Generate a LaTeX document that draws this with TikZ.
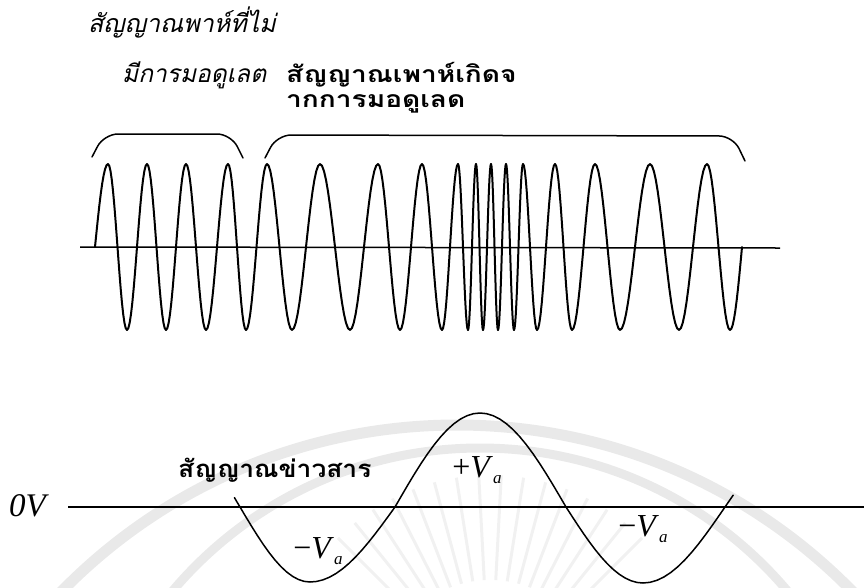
\documentclass[tikz,border=0pt]{standalone}
\usepackage{fontspec}
\setmainfont{Liberation Serif}
\newfontfamily\thaiit[Script=Thai,FakeSlant=0.22]{Loma}
\newfontfamily\thaibf[Script=Thai,FakeStretch=1.22]{Loma Bold}
\newfontfamily\thaibfmsg[Script=Thai,FakeStretch=1.1]{Loma Bold}
\tikzset{
  wave/.style={line width=2pt, line cap=round, line join=round},
  axisline/.style={line width=1.5pt},
  bracketline/.style={line width=1.5pt, line cap=round, rounded corners=14pt},
  thaiital/.style={inner sep=0pt, anchor=base west, font=\thaiit\fontsize{25}{28}\selectfont},
  thaibold/.style={inner sep=0pt, anchor=base west, font=\thaibf\fontsize{23}{26}\selectfont},
  vlabel/.style={inner sep=0pt, font=\fontsize{32}{34}\selectfont},
  wmband/.style={draw=gray!17, line width=11pt},
  wmray/.style={draw=gray!11, line width=3pt}
}
\newcommand{\subA}{\raisebox{-0.45ex}{\fontsize{17}{18}\selectfont\textit{a}}}
\begin{document}
\begin{tikzpicture}[x=1pt,y=-1pt]
\useasboundingbox (0,0) rectangle (864,587);
% ---- faint watermark ----
\begin{scope}
\clip (0,380) rectangle (864,587);
\draw[wmband] (457,978) circle[radius=553];
\draw[wmband, line width=9pt] (480,850) circle[radius=402];
\foreach \a in {45,51,...,135}
  \draw[wmray] ({490+110*cos(\a)},{690-110*sin(\a)}) -- ({490+215*cos(\a)},{690-215*sin(\a)});
\end{scope}
% ---- titles ----
\node[thaiital] (t1) at (88,32) {สัญญาณพาห์ที่ไม่};
\node[thaiital, font=\thaiit\fontsize{24.5}{27}\selectfont] (t2) at (122,82) {มีการมอดูเลต};
\node[thaibold] (t3) at (286,82) {สัญญาณเพาห์เกิดจ};
\node[thaibold] (t4) at (286,107) {ากการมอดูเลด};
% ---- brackets ----
\draw[bracketline] (92,157) -- (104,134) -- (231,134) -- (243,158);
\draw[bracketline] (265,158) -- (277,135) -- (733,136) -- (745,161);
% ---- carrier axis ----
\draw[axisline] (80,247) -- (780,248);
% ---- carrier wave ----
\def\yc{247}\def\amp{83}
\draw[wave] plot[domain=0:1,samples=10] ({95+13*\x},{\yc-\amp*sin(90*\x)});
\foreach \xb [remember=\xb as \xa (initially 108), count=\i] in
  {127,147,166,186,206,228,246,267,292,320,350,378,400,422,442,458,468,476,483,491,498,506,514,523,537,555,572,595,620,650,679,707,730}
{
  \pgfmathsetmacro{\s}{ifthenelse(mod(\i,2)==1,1,-1)}
  \draw[wave] plot[domain=0:1,samples=16] ({\xa+(\xb-\xa)*\x},{\yc-\s*\amp*cos(180*\x)});
}
\draw[wave] plot[domain=0:1,samples=10] ({730+12*\x},{\yc+\amp*cos(90*\x)});
% ---- message ----
\def\ym{507}
\draw[axisline, line width=1.3pt] (68,507) -- (864,507);
\node[vlabel, anchor=west, font=\itshape\fontsize{33}{36}\selectfont] (zero) at (9,506) {0V};
\draw[wave, line width=1.5pt]
  plot[domain=-0.08:1,samples=14] ({240+70*\x},{\ym+75*sin(90*\x)})
  -- plot[domain=0:1,samples=14] ({310+85*\x},{\ym+75*cos(90*\x)})
  -- plot[domain=0:1,samples=14] ({395+85*\x},{\ym-94*sin(90*\x)})
  -- plot[domain=0:1,samples=14] ({480+86*\x},{\ym-94*cos(90*\x)})
  -- plot[domain=0:1,samples=14] ({566+77*\x},{\ym+76*sin(90*\x)})
  -- plot[domain=0:1.1,samples=14] ({643+82*\x},{\ym+76*cos(90*\x)});
\node[thaibold, font=\thaibfmsg\fontsize{24}{26}\selectfont] (msg) at (178,477) {สัญญาณข่าวสาร};
\node[vlabel] (pv) at (477,470) {+\textit{V}\subA};
\node[vlabel] (mv1) at (318,551) {−\textit{V}\subA};
\node[vlabel] (mv2) at (643,529) {−\textit{V}\subA};
\end{tikzpicture}
\end{document}
